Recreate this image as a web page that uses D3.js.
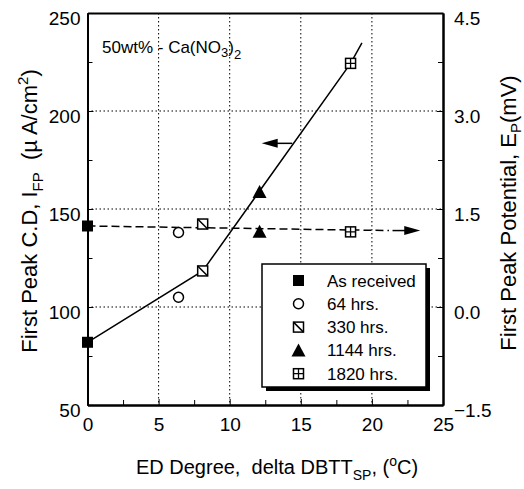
<!DOCTYPE html>
<meta charset="utf-8">
<style>
    body { margin: 0; background: #fff; }
    svg { font-family: "Liberation Sans", Arial, Helvetica, sans-serif; }
    svg text { white-space: pre; }
    .axis path, .axis line { stroke: #000; }
    .axis path { stroke-width: 2; }
    .axis text { fill: #000; font-size: 19px; }
    .grid line { stroke: #000; stroke-width: 1; stroke-dasharray: 1.5,2.5; }
</style>
<svg width="524" height="489"></svg>
<script src="https://d3js.org/d3.v7.min.js"></script>
<script>

    // treatment series
    var series = ["As received", "64 hrs.", "330 hrs.", "1144 hrs.", "1820 hrs."],
        symbols = ["filledSquare", "circle", "slashSquare", "triangle", "crossSquare"],
        deltaDBTT = [0, 6.4, 8.1, 12.1, 18.5],
        peakCD = [82, 105, 118.4, 158.7, 224.3],      // left axis, uA/cm2
        peakPotential = [1.24, 1.14, 1.27, 1.15, 1.15]; // right axis, mV

    // drawn trend lines
    var cdLineX = [0, 8.1, 18.5, 19.3],
        cdLineY = [82, 118.4, 224.3, 234.7],
        epLineX = [0, 21.2],
        epLineY = [1.24, 1.17];

    var xTicks = [0, 5, 10, 15, 20, 25],
        xMinor = [2.5, 7.5, 12.5, 17.5, 22.5],
        leftTicks = [50, 100, 150, 200, 250],
        leftMinor = [75, 125, 175, 225],
        rightTicks = [-1.5, 0, 1.5, 3.0, 4.5],
        rightMinor = [-0.75, 0.75, 2.25, 3.75],
        xGrid = [5, 10, 15, 20],
        yGrid = [100, 150, 200];

    var svg = d3.select("svg");

    var x = d3.scaleLinear().domain([0, 25]).range([87.5, 443]),
        yL = d3.scaleLinear().domain([50, 250]).range([405, 13]),
        yR = d3.scaleLinear().domain([-1.5, 4.5]).range([405, 13]);

    // grid
    var grid = svg.append("g").attr("class", "grid");
    grid.selectAll(".gx").data(xGrid).enter().append("line")
        .attr("x1", function(d) { return x(d); }).attr("x2", function(d) { return x(d); })
        .attr("y1", yL(250)).attr("y2", yL(50));
    grid.selectAll(".gy").data(yGrid).enter().append("line")
        .attr("y1", function(d) { return yL(d); }).attr("y2", function(d) { return yL(d); })
        .attr("x1", x(0)).attr("x2", x(25));

    // axes
    svg.append("g").attr("class", "axis")
        .attr("transform", "translate(0," + yL(50) + ")")
        .call(d3.axisBottom(x).tickValues(xTicks).tickSizeInner(-6).tickSizeOuter(0).tickPadding(13));
    svg.append("g").attr("class", "axis")
        .attr("transform", "translate(0," + yL(50) + ")")
        .call(d3.axisBottom(x).tickValues(xMinor).tickSizeInner(-5).tickSizeOuter(0).tickFormat(""));
    svg.append("g").attr("class", "axis")
        .attr("transform", "translate(0," + yL(250) + ")")
        .call(d3.axisTop(x).tickValues([]).tickSizeOuter(0));

    svg.append("g").attr("class", "axis")
        .attr("transform", "translate(" + x(0) + ",0)")
        .call(d3.axisLeft(yL).tickValues(leftTicks).tickSizeInner(-6).tickSizeOuter(0).tickPadding(7))
        .selectAll("text").attr("dy", "0.6em");
    svg.append("g").attr("class", "axis")
        .attr("transform", "translate(" + x(0) + ",0)")
        .call(d3.axisLeft(yL).tickValues(leftMinor).tickSizeInner(-5).tickSizeOuter(0).tickFormat(""));

    svg.append("g").attr("class", "axis")
        .attr("transform", "translate(" + x(25) + ",0)")
        .call(d3.axisRight(yR).tickValues(rightTicks).tickSizeInner(-6).tickSizeOuter(0)
            .tickPadding(11).tickFormat(d3.format(".1f")))
        .selectAll("text").attr("dy", "0.6em");
    svg.append("g").attr("class", "axis")
        .attr("transform", "translate(" + x(25) + ",0)")
        .call(d3.axisRight(yR).tickValues(rightMinor).tickSizeInner(-5).tickSizeOuter(0).tickFormat(""));

    // trend lines
    svg.append("path")
        .datum(d3.zip(cdLineX, cdLineY))
        .attr("fill", "none").attr("stroke", "#000").attr("stroke-width", 1.5)
        .attr("d", d3.line().x(function(d) { return x(d[0]); }).y(function(d) { return yL(d[1]); }));
    svg.append("path")
        .datum(d3.zip(epLineX, epLineY))
        .attr("fill", "none").attr("stroke", "#000").attr("stroke-width", 1.5)
        .attr("stroke-dasharray", "8,4")
        .attr("d", d3.line().x(function(d) { return x(d[0]); }).y(function(d) { return yR(d[1]); }));

    // direction arrows
    function arrow(x1, x2, y, dir) {
        svg.append("line").attr("x1", x1).attr("x2", x2 - dir * 14).attr("y1", y).attr("y2", y)
            .attr("stroke", "#000").attr("stroke-width", 1.5);
        svg.append("path")
            .attr("d", "M" + x2 + "," + y + "L" + (x2 - dir * 16) + "," + (y - 4.5) +
                "L" + (x2 - dir * 16) + "," + (y + 4.5) + "Z")
            .attr("fill", "#000");
    }
    arrow(x(14.4), x(12.25), yL(183.5), -1);
    arrow(x(21.45), x(23.4), yR(1.17), 1);

    // markers
    function marker(g, type) {
        if (type === "filledSquare") {
            g.append("rect").attr("x", -5.5).attr("y", -5.5).attr("width", 11).attr("height", 11).attr("fill", "#000");
        } else if (type === "circle") {
            g.append("circle").attr("r", 5).attr("fill", "#fff").attr("stroke", "#000").attr("stroke-width", 1.5);
        } else if (type === "triangle") {
            g.append("path").attr("d", "M0,-7L7,6L-7,6Z").attr("fill", "#000");
        } else {
            g.append("rect").attr("x", -5).attr("y", -5).attr("width", 10).attr("height", 10)
                .attr("fill", "#fff").attr("stroke", "#000").attr("stroke-width", 1.5);
            if (type === "slashSquare") {
                g.append("path").attr("d", "M-5,-5L5,5").attr("stroke", "#000").attr("stroke-width", 1.5);
            } else {
                g.append("path").attr("d", "M0,-5V5M-5,0H5").attr("stroke", "#000").attr("stroke-width", 1.3);
            }
        }
    }

    series.forEach(function(s, i) {
        marker(svg.append("g").attr("transform", "translate(" + x(deltaDBTT[i]) + "," + yL(peakCD[i]) + ")"), symbols[i]);
        marker(svg.append("g").attr("transform", "translate(" + x(deltaDBTT[i]) + "," + yR(peakPotential[i]) + ")"), symbols[i]);
    });

    // annotation
    var note = svg.append("text").attr("x", 102).attr("y", 53).attr("font-size", 17);
    note.append("tspan").text("50wt% - Ca(NO");
    note.append("tspan").attr("font-size", 13).attr("dy", 4).text("3");
    note.append("tspan").attr("dy", -4).text(")");
    note.append("tspan").attr("font-size", 13).attr("dy", 6).text("2");

    // legend
    var legend = svg.append("g");
    legend.append("rect").attr("x", 266).attr("y", 268).attr("width", 164).attr("height", 123).attr("fill", "#000");
    legend.append("rect").attr("x", 262).attr("y", 264).attr("width", 164).attr("height", 123)
        .attr("fill", "#fff").attr("stroke", "#000").attr("stroke-width", 1.5);
    series.forEach(function(s, i) {
        var row = legend.append("g").attr("transform", "translate(0," + (280.5 + i * 23.3) + ")");
        marker(row.append("g").attr("transform", "translate(298.5,0)"), symbols[i]);
        row.append("text").attr("x", 327).attr("y", 6).attr("font-size", 17).text(s);
    });

    // axis titles
    var xt = svg.append("text").attr("x", 277).attr("y", 474).attr("text-anchor", "middle").attr("font-size", 20);
    xt.append("tspan").text("ED Degree,  delta DBTT");
    xt.append("tspan").attr("font-size", 14).attr("dy", 6).text("SP");
    xt.append("tspan").attr("dy", -6).text(", (");
    xt.append("tspan").attr("font-size", 14).attr("dy", -8).text("o");
    xt.append("tspan").attr("dy", 8).text("C)");

    var lt = svg.append("text").attr("transform", "translate(37,211) rotate(-90)")
        .attr("text-anchor", "middle").attr("font-size", 22);
    lt.append("tspan").text("First Peak C.D, I");
    lt.append("tspan").attr("font-size", 15).attr("dy", 6).text("FP");
    lt.append("tspan").attr("dy", -6).text("  (\u00b5 A/cm");
    lt.append("tspan").attr("font-size", 15).attr("dy", -9).text("2");
    lt.append("tspan").attr("dy", 9).text(")");

    var rt = svg.append("text").attr("transform", "translate(516,213) rotate(-90)")
        .attr("text-anchor", "middle").attr("font-size", 22);
    rt.append("tspan").text("First Peak Potential, E");
    rt.append("tspan").attr("font-size", 15).attr("dy", 5).text("P");
    rt.append("tspan").attr("dy", -5).text("(mV)");
</script>
